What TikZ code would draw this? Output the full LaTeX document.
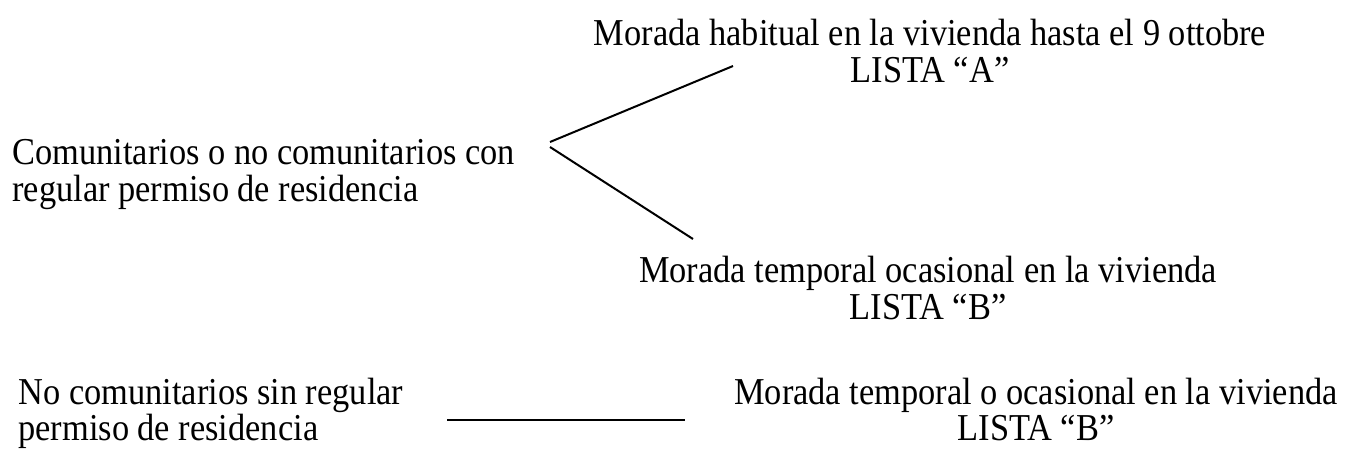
\documentclass[tikz,border=0pt]{standalone}
\usepackage{fontspec}
\setmainfont{Liberation Serif}[FakeStretch=0.905]
\begin{document}
\begin{tikzpicture}[
 x=.5pt,y=-.5pt,
 txt/.style={inner sep=0pt,font=\fontsize{19}{20}\selectfont},
 lft/.style={txt,anchor=base west},
 ctr/.style={txt,anchor=base},
 rama/.style={draw,line width=1pt},
 ]
 \useasboundingbox (0,0) rectangle (1348,450);
 % grupo 1
 \node[lft] (com1) at (12,164) {Comunitarios o no comunitarios con};
 \node[lft] (com2) at (12,201) {regular permiso de residencia};
 \node[ctr] (hab1) at (930,45)  {Morada habitual en la vivienda hasta el 9 ottobre};
 \node[ctr] (hab2) at (930,82)  {LISTA “A”};
 \node[ctr] (tmp1) at (928,282) {Morada temporal ocasional en la vivienda};
 \node[ctr] (tmp2) at (928,319) {LISTA “B”};
 % grupo 2
 \node[lft] (sin1) at (18,404) {No comunitarios sin regular};
 \node[lft] (sin2) at (18,440) {permiso de residencia};
 \node[ctr] (occ1) at (1036,404) {Morada temporal o ocasional en la vivienda};
 \node[ctr] (occ2) at (1036,440) {LISTA “B”};

 \coordinate (forkA) at (550,142);
 \coordinate (forkB) at (550,147);
 \coordinate (endA)  at (733,66);
 \coordinate (endB)  at (693,239);
 \coordinate (lin1)  at (447,420);
 \coordinate (lin2)  at (685,420);

 \draw[rama] (forkA) -- (endA);
 \draw[rama] (forkB) -- (endB);
 \draw[rama] (lin1) -- (lin2);
\end{tikzpicture}
\end{document}
